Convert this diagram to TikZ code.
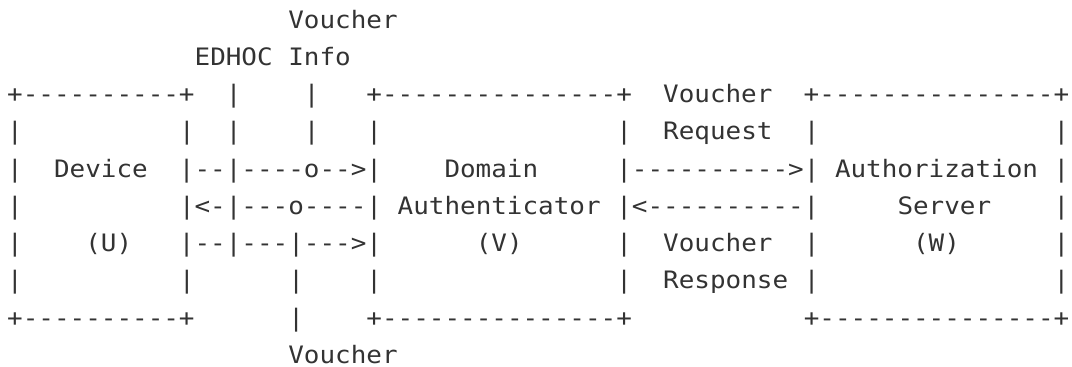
\documentclass[tikz,border=0pt]{standalone}
\usepackage{fontspec}
\setmonofont{DejaVu Sans Mono}[FakeStretch=1.081]
\definecolor{ink}{RGB}{51,51,51}
\newlength\cw
\newcommand\blank[1]{\hspace*{#1\cw}}
\newcommand\monofont{\ttfamily\fontsize{24}{24}\selectfont}
\begin{document}
\settowidth{\cw}{\monofont x}%
\begin{tikzpicture}[x=1pt,y=-1pt,
  asciiline/.style={anchor=base west, inner sep=0pt, outer sep=0pt, font=\monofont, text=ink}]
\useasboundingbox (0,0) rectangle (1072,367);
\def\lx{7.2}
\node[asciiline] (l0) at (\lx, 28.3) {\blank{18}Voucher};
\node[asciiline] (l1) at (\lx, 65.52) {\blank{12}EDHOC\blank{1}Info};
\node[asciiline] (l2) at (\lx, 102.74) {+----------+\blank{2}|\blank{4}|\blank{3}+---------------+\blank{2}Voucher\blank{2}+---------------+};
\node[asciiline] (l3) at (\lx, 139.96) {|\blank{10}|\blank{2}|\blank{4}|\blank{3}|\blank{15}|\blank{2}Request\blank{2}|\blank{15}|};
\node[asciiline] (l4) at (\lx, 177.18) {|\blank{2}Device\blank{2}|--|----o-->|\blank{4}Domain\blank{5}|---------->|\blank{1}Authorization\blank{1}|};
\node[asciiline] (l5) at (\lx, 214.4) {|\blank{10}|<-|---o----|\blank{1}Authenticator\blank{1}|<----------|\blank{5}Server\blank{4}|};
\node[asciiline] (l6) at (\lx, 251.62) {|\blank{4}(U)\blank{3}|--|---|--->|\blank{6}(V)\blank{6}|\blank{2}Voucher\blank{2}|\blank{6}(W)\blank{6}|};
\node[asciiline] (l7) at (\lx, 288.84) {|\blank{10}|\blank{6}|\blank{4}|\blank{15}|\blank{2}Response\blank{1}|\blank{15}|};
\node[asciiline] (l8) at (\lx, 326.06) {+----------+\blank{6}|\blank{4}+---------------+\blank{11}+---------------+};
\node[asciiline] (l9) at (\lx, 363.28) {\blank{18}Voucher};
\end{tikzpicture}
\end{document}
